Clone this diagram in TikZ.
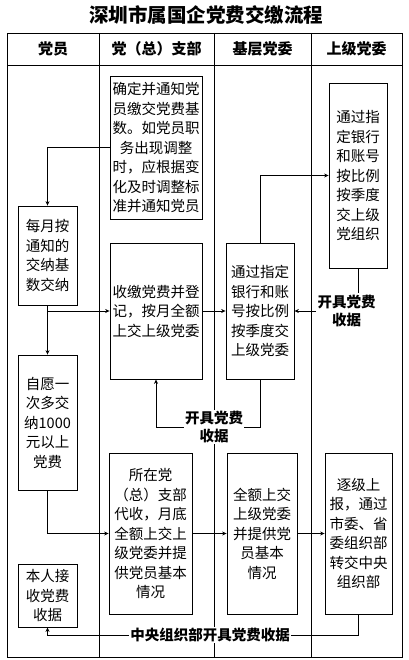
\documentclass[tikz,border=0pt]{standalone}
\usepackage{fontspec}
\setmainfont{Noto Sans CJK SC}
\usepackage{tikz}
\usetikzlibrary{arrows.meta, positioning, calc}

\begin{document}
\begin{tikzpicture}[
    x=1pt, y=-1pt,
    line width=0.8pt,
    >={Stealth[length=4.5pt,width=4pt]},
    font=\fontsize{14.5}{19.5}\selectfont,
    box/.style={rectangle, draw, inner sep=1pt, align=center},
    head/.style={font=\fontsize{15}{18}\selectfont\bfseries},
    note/.style={fill=white, inner sep=1pt, align=center, font=\fontsize{14.5}{18.5}\selectfont\bfseries},
    arrow/.style={->},
]
    \useasboundingbox (0,0) rectangle (408,660);

    % Title
    \node[font=\fontsize{19.5}{22}\selectfont\bfseries] (title) at (206,15) {深圳市属国企党费交缴流程};

    % Table frame
    \draw (7,33) rectangle (402,657);
    \draw (7,65) -- (402,65);
    \foreach \x in {99,214,311} \draw (\x,33) -- (\x,657);
    \node[head] (hmember) at (53,49) {党员};
    \node[head] (hbranch) at (156.5,49) {党（总）支部};
    \node[head] (hbase) at (262.5,49) {基层党委};
    \node[head] (hupper) at (356.5,49) {上级党委};

    % Branch
    \node[box, minimum width=92pt, minimum height=143pt] (notify) at (156,147.5)
        {确定并通知党\\员缴交党费基\\数。如党员职\\务出现调整\\时，应根据变\\化及时调整标\\准并通知党员};
    \node[box, minimum width=92pt, minimum height=136pt] (collect) at (156,311)
        {收缴党费并登\\记，按月全额\\上交上级党委};
    \node[box, minimum width=83pt, minimum height=161pt] (proxy) at (150.5,533.5)
        {所在党\\（总）支部\\代收，月底\\全额上交上\\级党委并提\\供党员基本\\情况};

    % Member
    \node[box, minimum width=59pt, minimum height=99pt] (monthly) at (47.5,255.5)
        {每月按\\通知的\\交纳基\\数交纳};
    \node[box, minimum width=59pt, minimum height=135pt] (extra) at (47.5,422.5)
        {自愿一\\次多交\\纳1000\\元以上\\党费};
    \node[box, minimum width=59pt, minimum height=63pt] (receipt) at (47.5,595.5)
        {本人接\\收党费\\收据};

    % Base committee
    \node[box, minimum width=68pt, minimum height=136pt] (bank) at (260,311)
        {通过指定\\银行和账\\号按比例\\按季度交\\上级党委};
    \node[box, minimum width=70pt, minimum height=161pt] (full) at (262,533.5)
        {全额上交\\上级党委\\并提供党\\员基本\\情况};

    % Upper committee
    \node[box, minimum width=58pt, minimum height=185pt] (upbank) at (358,175.5)
        {通过指\\定银行\\和账号\\按比例\\按季度\\交上级\\党组织};
    \node[box, minimum width=67pt, minimum height=161pt] (central) at (358.5,533.5)
        {逐级上\\报，通过\\市委、省\\委组织部\\转交中央\\组织部};

    % Receipts
    \node[note] (rcptup) at (346.5,311) {开具党费\\收据};
    \node[note] (rcptbase) at (214,427) {开具党费\\收据};
    \node[note] (rcptcentral) at (210,635) {中央组织部开具党费收据};

    \draw[arrow] (notify.west) -| (monthly.north);
    \draw[arrow] (monthly) -- (extra);
    \draw[arrow] (monthly.south |- collect.west) -- (collect.west);
    \draw[arrow] (collect) -- (bank);
    \draw[arrow] (bank.north) |- (upbank.west);
    \draw (upbank.south) -- (upbank.south |- rcptup.north);
    \draw[arrow] (rcptup) -- (bank);
    \draw (bank.south) |- (rcptbase.east);
    \draw[arrow] (rcptbase.west) -| (collect.south);
    \draw[arrow] (extra.south) |- (proxy.west);
    \draw[arrow] (proxy) -- (full);
    \draw[arrow] (full) -- (central);
    \draw (central.south) |- (rcptcentral.east);
    \draw[arrow] (rcptcentral.west) -| (receipt.south);
\end{tikzpicture}
\end{document}
